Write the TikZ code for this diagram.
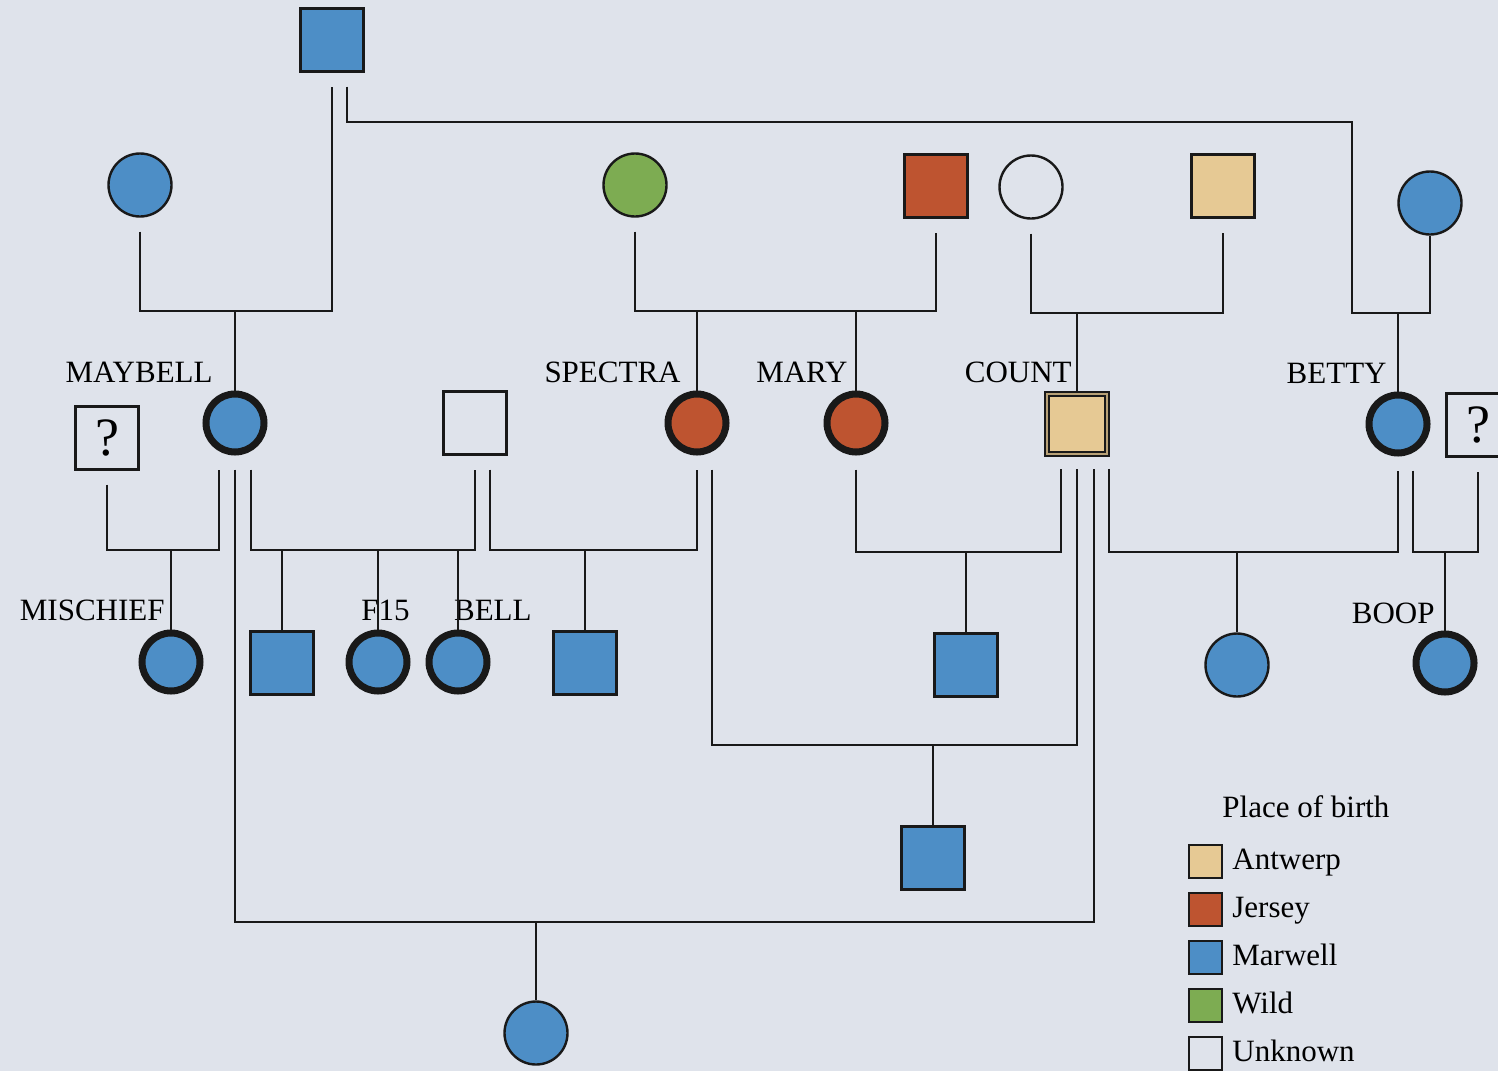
\documentclass[tikz,border=0pt]{standalone}
\usepackage{fontspec}
\setmainfont{Liberation Serif}
\usepackage{tikz}
\usetikzlibrary{positioning, calc}

\definecolor{paper}{HTML}{DFE3EB}
\definecolor{marwell}{HTML}{4D8EC6}
\definecolor{jersey}{HTML}{BE5430}
\definecolor{wild}{HTML}{7DAC52}
\definecolor{antwerp}{HTML}{E6C994}

\tikzset{
  male/.style={rectangle, draw=black!90, line width=1.2pt, minimum size=31.5pt, inner sep=0pt},
  female/.style={circle, draw=black!90, line width=1.2pt, minimum size=31.5pt, inner sep=0pt},
  sampled/.style={line width=3.5pt, minimum size=29pt},
  founder/.style={double=antwerp!80!black, double distance=1.4pt, line width=0.9pt, minimum size=30pt},
  link/.style={draw=black!90, line width=1pt},
  gapped/.style={shorten <=7pt, shorten >=7pt},
  tag/.style={font=\fontsize{15.5}{18}\selectfont, inner sep=0pt, anchor=base east},
  ask/.style={font=\fontsize{27}{30}\selectfont},
  swatch/.style={draw=black!90, line width=1pt, minimum size=16.5pt, inner sep=0pt},
  swatchtext/.style={font=\fontsize{15.5}{18}\selectfont, inner sep=0pt, anchor=base west},
}

\begin{document}
\begin{tikzpicture}[x=0.5pt, y=-0.5pt]
  \useasboundingbox (0,0) rectangle (1498,1071);
  \fill[paper] (0,0) rectangle (1498,1071);

  % founders
  \node[male, fill=marwell] (sire) at (332,40) {};
  \node[female, fill=marwell] (maymum) at (140,185) {};
  \node[female, fill=wild] (wildmum) at (635,185) {};
  \node[male, fill=jersey] (jerdad) at (936,186) {};
  \node[female] (countmum) at (1031,187) {};
  \node[male, fill=antwerp] (countdad) at (1223,186) {};
  \node[female, fill=marwell] (bettymum) at (1430,203) {};

  % second generation
  \node[male, ask] (maymate) at (107,438) {?};
  \node[female, sampled, fill=marwell] (maybell) at (235,423) {};
  \node[male] (bellsire) at (475,423) {};
  \node[female, sampled, fill=jersey] (spectra) at (697,423) {};
  \node[female, sampled, fill=jersey] (mary) at (856,423) {};
  \node[male, founder, fill=antwerp] (count) at (1077,424) {};
  \node[female, sampled, fill=marwell] (betty) at (1398,424) {};
  \node[male, ask] (bettymate) at (1478,425) {?};

  \node[tag] (lmaybell) at (213,382) {MAYBELL};
  \node[tag] (lspectra) at (681,382) {SPECTRA};
  \node[tag] (lmary) at (848,382) {MARY};
  \node[tag] (lcount) at (1072,382) {COUNT};
  \node[tag] (lbetty) at (1387,383) {BETTY};

  % offspring
  \node[female, sampled, fill=marwell] (mischief) at (171,662) {};
  \node[male, fill=marwell] (son1) at (282,663) {};
  \node[female, sampled, fill=marwell] (f15) at (378,662) {};
  \node[female, sampled, fill=marwell] (bell) at (458,662) {};
  \node[male, fill=marwell] (son2) at (585,663) {};
  \node[male, fill=marwell] (son3) at (966,665) {};
  \node[female, fill=marwell] (dau1) at (1237,665) {};
  \node[female, sampled, fill=marwell] (boop) at (1445,663) {};
  \node[male, fill=marwell] (son4) at (933,858) {};
  \node[female, fill=marwell] (dau2) at (536,1033) {};

  \node[tag] (lmischief) at (165,620) {MISCHIEF};
  \node[tag] (lf15) at (410,620) {F15};
  \node[tag] (lbell) at (532,620) {BELL};
  \node[tag] (lboop) at (1435,623) {BOOP};

  % mating lines
  \coordinate (top) at (1352,122);
  \coordinate (c1) at (235,311);
  \coordinate (c2) at (1398,313);
  \coordinate (c3a) at (697,311);
  \coordinate (c3b) at (856,311);
  \coordinate (c4) at (1077,313);
  \coordinate (c5) at (171,550);
  \coordinate (c6a) at (282,550);
  \coordinate (c6b) at (378,550);
  \coordinate (c6c) at (458,550);
  \coordinate (c7) at (585,550);
  \coordinate (c8) at (966,552);
  \coordinate (c9) at (1237,552);
  \coordinate (c10) at (1445,552);
  \coordinate (c11) at (933,745);
  \coordinate (c12) at (536,922);

  \draw[link, gapped] (maymum.south) |- (c1) -| (sire.south);
  \draw[link, shorten <=7pt] ([xshift=7.5pt]sire.south) |- (top) |- (c2) -| (bettymum.south);
  \draw[link, gapped] (wildmum.south) |- (c3a) -| (jerdad.south);
  \draw[link, gapped] (countmum.south) |- (c4) -| (countdad.south);
  \draw[link, gapped] (maymate.south) |- (c5) -| ([xshift=-8pt]maybell.south);
  \draw[link, gapped] ([xshift=8pt]maybell.south) |- (c6a) -| (bellsire.south);
  \draw[link, gapped] ([xshift=7.5pt]bellsire.south) |- (c7) -| (spectra.south);
  \draw[link, gapped] (mary.south) |- (c8) -| ([xshift=-8pt]count.south);
  \draw[link, gapped] ([xshift=16pt]count.south) |- (c9) -| (betty.south);
  \draw[link, gapped] ([xshift=7.5pt]betty.south) |- (c10) -| (bettymate.south);
  \draw[link, gapped] ([xshift=7.5pt]spectra.south) |- (c11) -| (count.south);
  \draw[link, gapped] (maybell.south) |- (c12) -| ([xshift=8.5pt]count.south);

  % descent lines
  \foreach \c/\k in {c1/maybell, c2/betty, c3a/spectra, c3b/mary, c4/count,
      c5/mischief, c6a/son1, c6b/f15, c6c/bell, c7/son2, c8/son3,
      c9/dau1, c10/boop, c11/son4, c12/dau2}
    \draw[link] (\c) -- (\k);

  % legend
  \node[swatchtext] (keyhead) at (1222,817) {Place of birth};
  \foreach \col/\txt [count=\i] in {antwerp/Antwerp, jersey/Jersey, marwell/Marwell, wild/Wild, paper/Unknown} {
    \node[swatch, fill=\col] (key\i) at (1205,813+48*\i) {};
    \node[swatchtext] (keytxt\i) at (1232,821+48*\i) {\txt};
  }
\end{tikzpicture}
\end{document}
